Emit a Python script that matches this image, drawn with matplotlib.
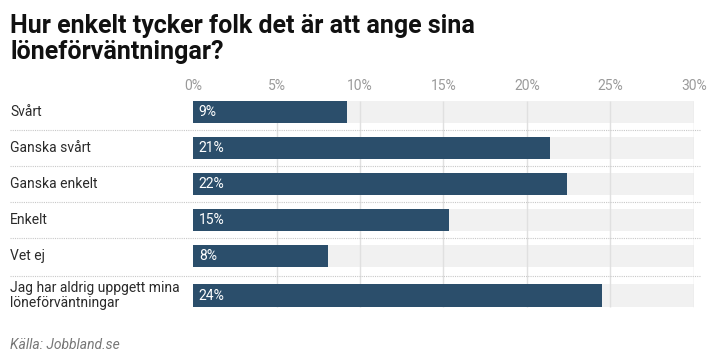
import matplotlib
matplotlib.use("Agg")
import matplotlib.pyplot as plt
import matplotlib.transforms as mtransforms
import numpy as np

categories = ["Svårt", "Ganska svårt", "Ganska enkelt", "Enkelt", "Vet ej",
              "Jag har aldrig uppgett mina\nlöneförväntningar"]
values = [9.2, 21.4, 22.4, 15.3, 8.1, 24.5]
value_labels = ["9%", "21%", "22%", "15%", "8%", "24%"]
ticks = [0, 5, 10, 15, 20, 25, 30]
tick_labels = ["0%", "5%", "10%", "15%", "20%", "25%", "30%"]

title = "Hur enkelt tycker folk det är att ange sina\nlöneförväntningar?"
source = "Källa: Jobbland.se"

W, H = 720, 362
fig = plt.figure(figsize=(W / 100, H / 100), dpi=100)
plt.rcParams["font.family"] = ["Roboto", "DejaVu Sans"]

bar_color = "#2b4e6b"
band_color = "#f1f1f1"
grid_color = "#e0e0e0"

# layout in pixels
ax_left, ax_right = 193, 694
ax_top, ax_bottom = 97, 315
ax = fig.add_axes([ax_left / W, 1 - ax_bottom / H, (ax_right - ax_left) / W,
                   (ax_bottom - ax_top) / H])

pos = np.array([0, 1, 2, 3, 4, 5.1])
bh = 0.62
xmax = ticks[-1]

ax.barh(pos, [xmax] * len(pos), height=bh, color=band_color, zorder=1)
ax.vlines(ticks[1:], pos[0] - bh / 2, pos[-1] + bh / 2, color=grid_color, lw=1, zorder=2)
ax.barh(pos, values, height=bh, color=bar_color, zorder=3)

for p, lab in zip(pos, value_labels):
    ax.text(0.35, p, lab, color="white", fontsize=10, va="center", ha="left", zorder=4)

ax.set_xlim(0, xmax)
ax.set_ylim(5.64, -0.42)
ax.xaxis.tick_top()
ax.set_xticks(ticks)
ax.set_xticklabels(tick_labels, color="#9a9a9a", fontsize=10)
ax.tick_params(axis="x", length=0, pad=3)
ax.set_yticks([])
for s in ax.spines.values():
    s.set_visible(False)

# category labels
trans = mtransforms.blended_transform_factory(fig.transFigure, ax.transData)
for p, c in zip(pos, categories):
    fig.text(10 / W, p, c, transform=trans, fontsize=10, color="#2a2a2a",
             va="center", ha="left", linespacing=1.1)

# dotted separators
for a, b in zip(pos[:-1], pos[1:]):
    y = (a + b) / 2
    line = plt.Line2D([10 / W, 700 / W], [y, y], transform=trans, color="#c8c8c8",
                      lw=0.8, linestyle=(0, (1, 1)))
    fig.add_artist(line)

fig.text(10 / W, 1 - 14 / H, title, fontsize=18, fontweight="bold", color="#111111",
         va="top", ha="left", linespacing=1.12)
fig.text(10 / W, 1 - 345 / H, source, fontsize=10, style="italic", color="#777777",
         va="center", ha="left")

fig.savefig("out.png", dpi=100, facecolor="white")
